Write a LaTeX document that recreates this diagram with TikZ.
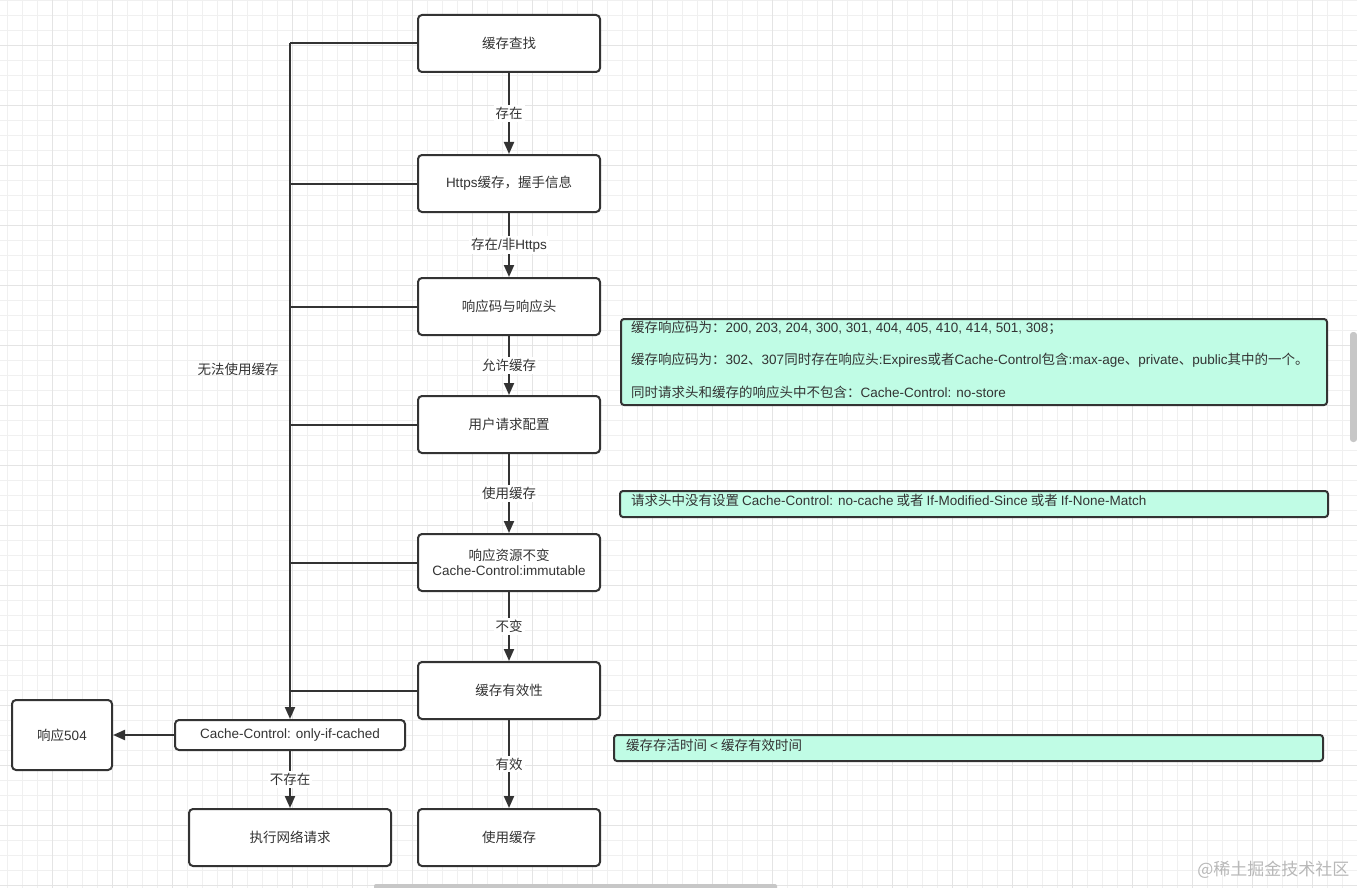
\documentclass[tikz,border=0pt]{standalone}
\usepackage{fontspec}
\setmainfont{Noto Sans CJK SC}
\newfontfamily\latfont{Liberation Sans}
\newcommand\mylat[1]{{\latfont #1}}
\usetikzlibrary{arrows.meta}
\definecolor{ink}{HTML}{333333}
\definecolor{mint}{HTML}{C0FCE5}
\definecolor{gridl}{HTML}{F0F0F0}
\definecolor{gridh}{HTML}{E4E4E4}
\begin{document}
\begin{tikzpicture}[x=1pt,y=-1pt,
  every node/.style={font=\fontsize{13.5}{16}\selectfont, text=ink},
  box/.style={draw=ink, line width=2pt, rounded corners=4pt, fill=white, align=center, inner sep=0pt},
  mainbox/.style={box, minimum width=182pt, minimum height=57pt},
  note/.style={draw=ink, line width=2pt, rounded corners=3pt, fill=mint, inner sep=0pt},
  notetext/.style={anchor=west, inner sep=0pt},
  lbl/.style={fill=white, inner sep=2pt},
  conn/.style={draw=ink, line width=2pt},
  arr/.style={conn, -{Triangle[length=12pt,width=10pt]}},
  gline/.style={draw=gridl, line width=0.8pt},
  gheavy/.style={draw=gridh, line width=0.8pt}
]
\useasboundingbox (0,0) rectangle (1357,888);
\fill[white] (0,0) rectangle (1357,888);
% grid
\foreach \i in {0,...,90} {\draw[gline] ({7.5+15*\i},0) -- ({7.5+15*\i},888);}
\foreach \i in {0,...,59} {\draw[gline] (0,{15*\i}) -- (1357,{15*\i});}
\foreach \i in {0,...,22} {\draw[gheavy] ({52.5+60*\i},0) -- ({52.5+60*\i},888);}
\foreach \i in {0,...,14} {\draw[gheavy] (0,{45+60*\i}) -- (1357,{45+60*\i});}

% main column
\node[mainbox] (b1) at (509,43.5) {缓存查找};
\node[mainbox] (b2) at (509,183.5) {\mylat{Https}缓存，握手信息};
\node[mainbox] (b3) at (509,306.5) {响应码与响应头};
\node[mainbox] (b4) at (509,424.5) {用户请求配置};
\node[mainbox] (b5) at (509,562.5) {响应资源不变\\[-1pt]\mylat{Cache-Control:immutable}};
\node[mainbox] (b6) at (509,690.5) {缓存有效性};
\node[mainbox] (b7) at (509,837.5) {使用缓存};

% left side
\node[box, minimum width=230pt, minimum height=30pt] (cc) at (290,735) {\mylat{Cache-Control: only-if-cached}};
\node[box, minimum width=100pt, minimum height=70pt] (r504) at (62,735) {响应\mylat{504}};
\node[box, minimum width=202pt, minimum height=57pt] (net) at (290,837.5) {执行网络请求};
\node (nouse) at (238,369) {无法使用缓存};

% main arrows
\draw[arr] (b1) -- node[lbl]{存在} (b2);
\draw[arr] (b2) -- node[lbl]{存在\mylat{/}非\mylat{Https}} (b3);
\draw[arr] (b3) -- node[lbl]{允许缓存} (b4);
\draw[arr] (b4) -- node[lbl]{使用缓存} (b5);
\draw[arr] (b5) -- node[lbl]{不变} (b6);
\draw[arr] (b6) -- node[lbl]{有效} (b7);

% trunk
\coordinate (top) at (b1.west -| cc.north);
\draw[arr] (top) -- (cc.north);
\foreach \b in {b1,b2,b3,b4,b5,b6} {\draw[conn] (\b.west) -- (\b.west -| cc.north);}
\draw[arr] (cc.west) -- (r504.east);
\draw[arr] (cc) -- node[lbl]{不存在} (net);

% notes
\node[note, minimum width=706pt, minimum height=86pt] (n1) at (974,362) {};
\node[notetext] (n1a) at (631,328) {缓存响应码为：\mylat{200, 203, 204, 300, 301, 404, 405, 410, 414, 501, 308}；};
\node[notetext] (n1b) at (631,360) {缓存响应码为：\mylat{302}、\mylat{307}同时存在响应头\mylat{:Expires}或者\mylat{Cache-Control}包含\mylat{:max-age}、\mylat{private}、\mylat{public}其中的一个。};
\node[notetext] (n1c) at (631,392) {同时请求头和缓存的响应头中不包含：\mylat{Cache-Control: no-store}};
\node[note, minimum width=708pt, minimum height=26pt] (n2) at (974,504) {};
\node[notetext] (n2a) at (631,500) {请求头中没有设置 \mylat{Cache-Control: no-cache} 或者 \mylat{If-Modified-Since} 或者 \mylat{If-None-Match}};
\node[note, minimum width=709pt, minimum height=26pt] (n3) at (968.5,748) {};
\node[notetext] (n3a) at (626,745) {缓存存活时间 \mylat{<} 缓存有效时间};

% scrollbars and watermark
\fill[black!22, rounded corners=3pt] (1350,332) rectangle (1357,442);
\fill[black!22, rounded corners=2pt] (374,884) rectangle (777,890);
\node[anchor=east, text=black!28, font=\fontsize{17}{20}\selectfont] (wm) at (1353,870) {@稀土掘金技术社区};
\end{tikzpicture}
\end{document}
